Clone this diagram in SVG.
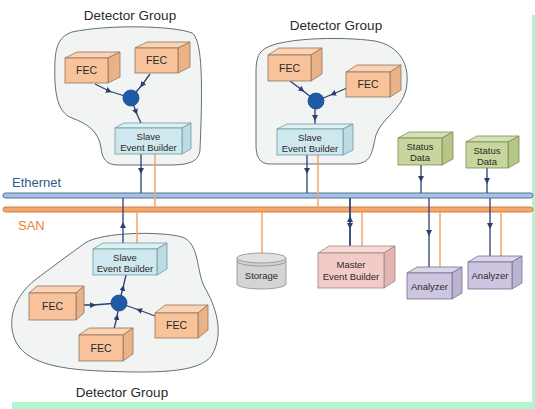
<svg xmlns="http://www.w3.org/2000/svg" width="535" height="409" viewBox="0 0 535 409">
<defs>
<style>
text{font-family:"Liberation Sans",Arial,sans-serif;fill:#2a2a2a;text-anchor:middle}
.title{font-size:13.5px}
.lbl{font-size:10.5px}
.sm{font-size:9.5px}
.blob{fill:#f2f3f3;stroke:#5e7074;stroke-width:1}
.fec{fill:#f8c39a;stroke:#8f7560;stroke-width:0.8}
.fect{fill:#fbd3b3;stroke:#8f7560;stroke-width:0.8}
.fecs{fill:#ebb287;stroke:#8f7560;stroke-width:0.8}
.seb{fill:#cfe8ee;stroke:#6f9aa4;stroke-width:0.8}
.sebt{fill:#def0f4;stroke:#6f9aa4;stroke-width:0.8}
.sebs{fill:#bcdbe2;stroke:#6f9aa4;stroke-width:0.8}
.sd{fill:#c6d69c;stroke:#7d8c58;stroke-width:0.8}
.sdt{fill:#d4e1b0;stroke:#7d8c58;stroke-width:0.8}
.sds{fill:#b5c688;stroke:#7d8c58;stroke-width:0.8}
.an{fill:#cec6e1;stroke:#756f90;stroke-width:0.8}
.ant{fill:#dcd6eb;stroke:#756f90;stroke-width:0.8}
.ans{fill:#bcb3d3;stroke:#756f90;stroke-width:0.8}
.mb{fill:#f2cac7;stroke:#a18483;stroke-width:0.8}
.mbt{fill:#f7d9d6;stroke:#a18483;stroke-width:0.8}
.mbs{fill:#e4b6b3;stroke:#a18483;stroke-width:0.8}
.hub{fill:#1f5aa6;stroke:#1a4a8a;stroke-width:0.8}
.nv{fill:none;stroke:#2b3f6e;stroke-width:1.3;marker-mid:url(#ar)}
.or{fill:none;stroke:#f4a569;stroke-width:1.5}
</style>
<marker id="ar" viewBox="0 0 8 8" refX="4" refY="4" markerWidth="6" markerHeight="6" markerUnits="userSpaceOnUse" orient="auto">
<path d="M0,0 L8,4 L0,8 z" fill="#2b3f6e"/>
</marker>
</defs>

<rect x="532" y="15" width="3" height="394" fill="#b3f5cf"/>
<rect x="12" y="402" width="523" height="7" fill="#b3f5cf"/>

<g id="group1">
<path class="blob" d="M 72 32 C 110 24, 175 26, 192 33 C 204 40, 202 100, 200 150 C 199 161, 190 165, 170 165 L 118 165 C 106 165, 102 158, 101 148 C 99 132, 88 124, 72 118 C 56 112, 54 90, 55 60 C 56 45, 60 36, 72 32 Z"/>
<text class="title" x="130" y="20">Detector Group</text>
</g>
<g id="group2">
<path class="blob" d="M 263 50 C 276 38, 340 36, 375 41 C 400 46, 411 65, 406 90 C 401 110, 382 118, 376 135 C 372 150, 373 163, 355 164 L 270 164 C 259 164, 256 156, 256 145 L 256 72 C 256 60, 258 54, 263 50 Z"/>
<text class="title" x="336" y="30">Detector Group</text>
</g>
<g id="group3">
<path class="blob" d="M 85 243 C 102 232, 160 231, 182 237 C 200 243, 196 272, 205 288 C 215 305, 225 332, 212 355 C 200 374, 150 373, 100 371 C 55 369, 25 362, 15 340 C 6 318, 16 295, 35 280 C 52 267, 70 254, 85 243 Z"/>
<text class="title" x="122" y="397">Detector Group</text>
</g>

<g id="ethernet">
<rect x="3" y="193" width="530" height="5" rx="2.5" fill="#a7c2e0" stroke="#4f6f98" stroke-width="1"/>
<text x="12" y="187" style="font-size:13px;fill:#2f5b8c;text-anchor:start">Ethernet</text>
</g>
<g id="san">
<rect x="3" y="207" width="530" height="5" rx="2.5" fill="#f5a66b" stroke="#d0803e" stroke-width="1"/>
<text x="18" y="230" style="font-size:13px;fill:#e8833a;text-anchor:start">SAN</text>
</g>

<g id="connectors">
<polyline class="nv" points="95,84 109,91 131,98"/>
<polyline class="nv" points="150,74 142,85 131,98"/>
<polyline class="nv" points="131,98 136,112 141,123"/>
<polyline class="nv" points="141,154 141,171 141,193"/>
<line class="or" x1="155" y1="154" x2="155" y2="207"/>
<polyline class="nv" points="290,81 302,90 316,101"/>
<polyline class="nv" points="347,88 333,94 316,101"/>
<polyline class="nv" points="315,101 315,118 315,124"/>
<polyline class="nv" points="307,155 307,171 307,193"/>
<line class="or" x1="318" y1="155" x2="318" y2="207"/>
<polyline class="nv" points="421,165 421,179 421,193"/>
<polyline class="nv" points="487,168 487,181 487,193"/>
<line class="or" x1="262" y1="212" x2="262" y2="254"/>
<polyline class="nv" points="350,248 350,219 350,198"/>
<polyline class="nv" points="350,198 350,226 350,248"/>
<line class="or" x1="362" y1="212" x2="362" y2="248"/>
<polyline class="nv" points="429,198 429,233 429,268"/>
<line class="or" x1="440" y1="212" x2="440" y2="268"/>
<polyline class="nv" points="490,198 490,226 490,257"/>
<line class="or" x1="501" y1="212" x2="501" y2="257"/>
<polyline class="nv" points="123,243 123,225 123,198"/>
<line class="or" x1="137" y1="243" x2="137" y2="212"/>
<polyline class="nv" points="119,303 123,288 126,275"/>
<polyline class="nv" points="76,305 93,305 119,303"/>
<polyline class="nv" points="114,329 117,317 119,303"/>
<polyline class="nv" points="155,316 139,310 119,303"/>
</g>

<g id="fec1">
<polygon class="fect" points="65,58 77,52 120,52 108,58"/><polygon class="fecs" points="108,58 120,52 120,77 108,83"/><rect class="fec" x="65" y="58" width="43" height="25"/>
<text class="lbl" x="86.5" y="74">FEC</text>
</g>
<g id="fec2">
<polygon class="fect" points="135,48 147,42 190,42 178,48"/><polygon class="fecs" points="178,48 190,42 190,67 178,73"/><rect class="fec" x="135" y="48" width="43" height="25"/>
<text class="lbl" x="156.5" y="64">FEC</text>
</g>
<g id="hub1"><circle class="hub" cx="131" cy="98" r="8"/></g>
<g id="seb1">
<polygon class="sebt" points="115,128 124,123 191,123 182,128"/><polygon class="sebs" points="182,128 191,123 191,149 182,154"/><rect class="seb" x="115" y="128" width="67" height="26"/>
<text class="sm" x="148.5" y="139.5">Slave</text><text class="sm" x="148.5" y="150.5">Event Builder</text>
</g>

<g id="fec3">
<polygon class="fect" points="268,55 279,48 322,48 311,55"/><polygon class="fecs" points="311,55 322,48 322,74 311,81"/><rect class="fec" x="268" y="55" width="43" height="26"/>
<text class="lbl" x="289.5" y="71.5">FEC</text>
</g>
<g id="fec4">
<polygon class="fect" points="346,72 357,65 401,65 390,72"/><polygon class="fecs" points="390,72 401,65 401,90 390,97"/><rect class="fec" x="346" y="72" width="44" height="25"/>
<text class="lbl" x="368" y="88">FEC</text>
</g>
<g id="hub2"><circle class="hub" cx="316" cy="101" r="8"/></g>
<g id="seb2">
<polygon class="sebt" points="277,129 287,124 353,124 343,129"/><polygon class="sebs" points="343,129 353,124 353,150 343,155"/><rect class="seb" x="277" y="129" width="66" height="26"/>
<text class="sm" x="310" y="140.5">Slave</text><text class="sm" x="310" y="151.5">Event Builder</text>
</g>

<g id="status1">
<polygon class="sdt" points="398,138 409,132 453,132 442,138"/><polygon class="sds" points="442,138 453,132 453,159 442,165"/><rect class="sd" x="398" y="138" width="44" height="27"/>
<text class="sm" x="420" y="149.5">Status</text><text class="sm" x="420" y="160.5">Data</text>
</g>
<g id="status2">
<polygon class="sdt" points="466,142 477,136 519,136 508,142"/><polygon class="sds" points="508,142 519,136 519,162 508,168"/><rect class="sd" x="466" y="142" width="42" height="26"/>
<text class="sm" x="487" y="153.5">Status</text><text class="sm" x="487" y="164.5">Data</text>
</g>

<g id="storage">
<path d="M237,258 L237,284 A24.5,5 0 0 0 286,284 L286,258" fill="#d4d4d4" stroke="#8a8a8a" stroke-width="0.8"/>
<ellipse cx="261.5" cy="258" rx="24.5" ry="5" fill="#e0e0e0" stroke="#8a8a8a" stroke-width="0.8"/>
<path d="M237,261 A24.5,5 0 0 0 286,261" fill="none" stroke="#8a8a8a" stroke-width="0.8"/>
<text class="sm" x="261.5" y="279">Storage</text>
</g>

<g id="master">
<polygon class="mbt" points="318,253 329,246 395,246 384,253"/><polygon class="mbs" points="384,253 395,246 395,281 384,288"/><rect class="mb" x="318" y="253" width="66" height="35"/>
<text class="sm" x="351" y="268">Master</text><text class="sm" x="351" y="279.5">Event Builder</text>
</g>

<g id="analyzer1">
<polygon class="ant" points="407,273 417,267 462,267 452,273"/><polygon class="ans" points="452,273 462,267 462,293 452,299"/><rect class="an" x="407" y="273" width="45" height="26"/>
<text class="sm" x="429.5" y="290">Analyzer</text>
</g>
<g id="analyzer2">
<polygon class="ant" points="468,262 478,256 522,256 512,262"/><polygon class="ans" points="512,262 522,256 522,283 512,289"/><rect class="an" x="468" y="262" width="44" height="27"/>
<text class="sm" x="490" y="279">Analyzer</text>
</g>

<g id="seb3">
<polygon class="sebt" points="93,249 103,243 167,243 157,249"/><polygon class="sebs" points="157,249 167,243 167,269 157,275"/><rect class="seb" x="93" y="249" width="64" height="26"/>
<text class="sm" x="125" y="260.5">Slave</text><text class="sm" x="125" y="271.5">Event Builder</text>
</g>
<g id="hub3"><circle class="hub" cx="119" cy="303" r="8"/></g>
<g id="fec5">
<polygon class="fect" points="29,293 37,286 84,286 76,293"/><polygon class="fecs" points="76,293 84,286 84,313 76,320"/><rect class="fec" x="29" y="293" width="47" height="27"/>
<text class="lbl" x="52.5" y="310">FEC</text>
</g>
<g id="fec6">
<polygon class="fect" points="79,335 89,328 133,328 123,335"/><polygon class="fecs" points="123,335 133,328 133,354 123,361"/><rect class="fec" x="79" y="335" width="44" height="26"/>
<text class="lbl" x="101" y="352">FEC</text>
</g>
<g id="fec7">
<polygon class="fect" points="155,313 165,305 208,305 198,313"/><polygon class="fecs" points="198,313 208,305 208,330 198,338"/><rect class="fec" x="155" y="313" width="43" height="25"/>
<text class="lbl" x="176.5" y="329">FEC</text>
</g>
</svg>
